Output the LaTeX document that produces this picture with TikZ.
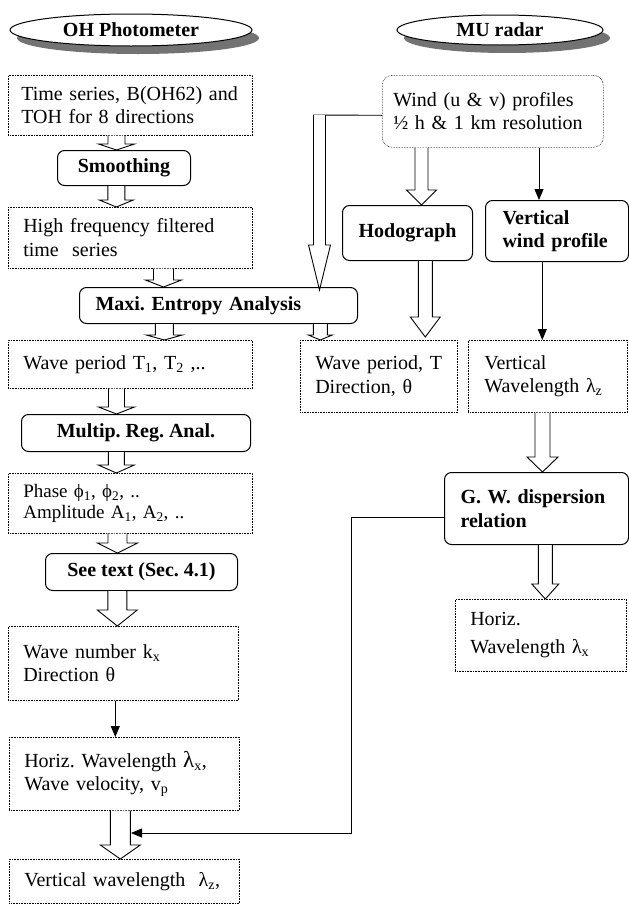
\documentclass[tikz,border=0pt]{standalone}
\usepackage{fontspec}
\setmainfont{Liberation Serif}
\usetikzlibrary{shapes.geometric,shadows,arrows.meta,calc}

\newcommand{\boxfont}{\fontsize{20}{23.5}\selectfont}
\frenchspacing

% hollow block arrow: from, to (tip), shaft half width, head half width, head length
\newcommand{\fatarrow}[5]{%
  \draw[hollow] let \p1=(#1), \p2=(#2) in
    (\x2-#3,\y1) -- (\x2-#3,\y2+#5) -- (\x2-#4,\y2+#5) -- (\x2,\y2)
    -- (\x2+#4,\y2+#5) -- (\x2+#3,\y2+#5) -- (\x2+#3,\y1);}

\tikzset{
  source/.style={ellipse, draw, line width=1pt, fill=white, inner sep=0pt,
    font=\boxfont\bfseries,
    drop shadow={shadow xshift=7pt, shadow yshift=-8pt, fill=black!55, opacity=1}},
  databox/.style={draw, densely dotted, line width=0.6pt, anchor=north west,
    align=left, inner ysep=2pt},
  windbox/.style={databox, rounded corners=10pt},
  procbox/.style={draw, rounded corners=7pt, line width=1pt, fill=white,
    font=\boxfont\bfseries, anchor=north west, inner sep=0pt},
  thinarrow/.style={-{Triangle[length=11pt,width=9pt]}, line width=0.8pt},
  hollow/.style={fill=white, line width=0.9pt, line join=miter}
}

\begin{document}
\begin{tikzpicture}[x=1pt, y=-1pt, font=\boxfont]
  % page frame
  \useasboundingbox (0,0) rectangle (629,905);

  % the two instruments
  \node[source, minimum width=242pt, minimum height=32pt] (oh) at (131,30) {OH Photometer};
  \node[source, minimum width=206pt, minimum height=30pt] (mu) at (500,30) {MU radar};

  % OH photometer column
  \node[databox, text width=218pt, inner xsep=13pt, minimum height=60pt] (series) at (8,75)
    {Time series, B(OH62) and\\TOH for 8 directions};
  \node[procbox, minimum width=133pt, minimum height=35pt] (smooth) at (57,150) {Smoothing};
  \node[databox, text width=214pt, inner xsep=15pt, minimum height=61pt] (filtered) at (8,207)
    {High frequency filtered\\time\ \ series};
  \node[procbox, text width=246pt, inner xsep=16pt, align=left, minimum height=36pt] (maxi) at (79,287)
    {Maxi. Entropy Analysis};
  \node[databox, text width=214pt, inner xsep=15pt, minimum height=48pt] (periods) at (8,340)
    {Wave period T\textsubscript{1}, T\textsubscript{2} ,..};
  \node[procbox, minimum width=229pt, minimum height=37pt] (multip) at (21,414) {Multip. Reg. Anal.};
  \node[databox, text width=214pt, inner xsep=15pt, minimum height=60pt,
    font=\fontsize{19}{21}\selectfont] (phase) at (8,473)
    {Phase ϕ\textsubscript{1}, ϕ\textsubscript{2}, ..\\Amplitude A\textsubscript{1}, A\textsubscript{2}, ..};
  \node[procbox, minimum width=192pt, minimum height=37pt] (seetext) at (45,553) {See text (Sec. 4.1)};
  \node[databox, text width=200pt, inner xsep=15pt, minimum height=74pt] (wavenum) at (8,626)
    {Wave number k\textsubscript{x}\\Direction θ};
  \node[databox, text width=200pt, inner xsep=15pt, minimum height=73pt] (horizL) at (9,737)
    {Horiz. Wavelength {\fontsize{23}{23.5}\selectfont λ}\textsubscript{x},\\Wave velocity, v\textsubscript{p}};
  \node[databox, text width=200pt, inner xsep=15pt, minimum height=44pt] (vertL) at (9,859)
    {Vertical wavelength\ \ λ\textsubscript{z},};

  % MU radar column
  \node[windbox, text width=199pt, inner xsep=11pt, minimum height=72pt] (wind) at (382,75)
    {Wind (u \& v) profiles\\½ h \& 1 km resolution};
  \node[procbox, minimum width=130pt, minimum height=55pt] (hodo) at (342,205) {Hodograph};
  \node[procbox, text width=109pt, inner xsep=17pt, align=left, minimum height=61pt] (vert) at (485,200)
    {Vertical\\wind profile};
  \node[databox, text width=127pt, inner xsep=15pt, minimum height=72pt] (wptheta) at (300,340)
    {Wave period, T\\Direction, θ};
  \node[databox, text width=127pt, inner xsep=16pt, minimum height=72pt] (vwl) at (468,340)
    {Vertical\\Wavelength λ\textsubscript{z}};
  \node[procbox, text width=152pt, inner xsep=16pt, align=left, minimum height=72pt] (gw) at (444,472)
    {G. W. dispersion\\relation};
  \node[databox, text width=141pt, inner xsep=15pt, minimum height=72pt,
    font=\fontsize{20}{28}\selectfont] (horizR) at (455,599)
    {Horiz.\\Wavelength λ\textsubscript{x}};

  % block arrows
  \fatarrow{series.south}{[xshift=-7.5pt]smooth.north}{8.5pt}{18pt}{6pt}
  \fatarrow{smooth.south}{[xshift=-14pt]filtered.north}{8.5pt}{17pt}{7pt}
  \fatarrow{filtered.south}{[xshift=-55pt]maxi.north}{10pt}{18pt}{7pt}
  \fatarrow{maxi.south}{[xshift=34pt]periods.north}{9pt}{18pt}{5pt}
  \fatarrow{maxi.south}{[xshift=-58.5pt]wptheta.north}{7pt}{12pt}{5pt}
  \fatarrow{periods.south}{[xshift=-19.5pt]multip.north}{8pt}{18pt}{7pt}
  \fatarrow{multip.south}{[xshift=-14pt]phase.north}{8pt}{18pt}{8pt}
  \fatarrow{phase.south}{[xshift=-24pt]seetext.north}{9.5pt}{20pt}{10pt}
  \fatarrow{seetext.south}{[xshift=-6pt]wavenum.north}{9.5pt}{20pt}{16pt}
  \fatarrow{horizL.south}{[xshift=-4pt]vertL.north}{10pt}{20pt}{14pt}
  \fatarrow{wind.south}{[xshift=14pt]hodo.north}{6.5pt}{15pt}{15pt}
  \fatarrow{hodo.south}{[xshift=46.5pt,yshift=3pt]wptheta.north}{7pt}{15pt}{20pt}
  \fatarrow{vwl.south}{[xshift=6pt]gw.north}{7.5pt}{15.5pt}{15pt}
  \fatarrow{gw.south}{[xshift=4.5pt]horizR.north}{7pt}{13.5pt}{15pt}
  % wind profiles into the entropy analysis
  \coordinate (bend) at (313,115);
  \draw[line width=0.9pt] ([yshift=-4pt]wind.west) -- (bend);
  \fatarrow{bend}{[xshift=101pt,yshift=-3pt]maxi.north}{6pt}{11pt}{45pt}

  % thin arrows
  \draw[thinarrow] ([xshift=-18pt]vert.north |- wind.south) -- ([xshift=-18pt]vert.north);
  \draw[thinarrow] ([xshift=-5.5pt]vwl.north |- vert.south) -- ([xshift=-5.5pt]vwl.north);
  \draw[thinarrow] ([xshift=-9pt]horizL.north |- wavenum.south) -- ([xshift=-9pt]horizL.north);
  \coordinate (loop) at (351,833);
  \coordinate (merge) at (131,833);
  \draw[thinarrow] ([yshift=-9pt]gw.west) -| (loop) -- (merge);
\end{tikzpicture}
\end{document}
